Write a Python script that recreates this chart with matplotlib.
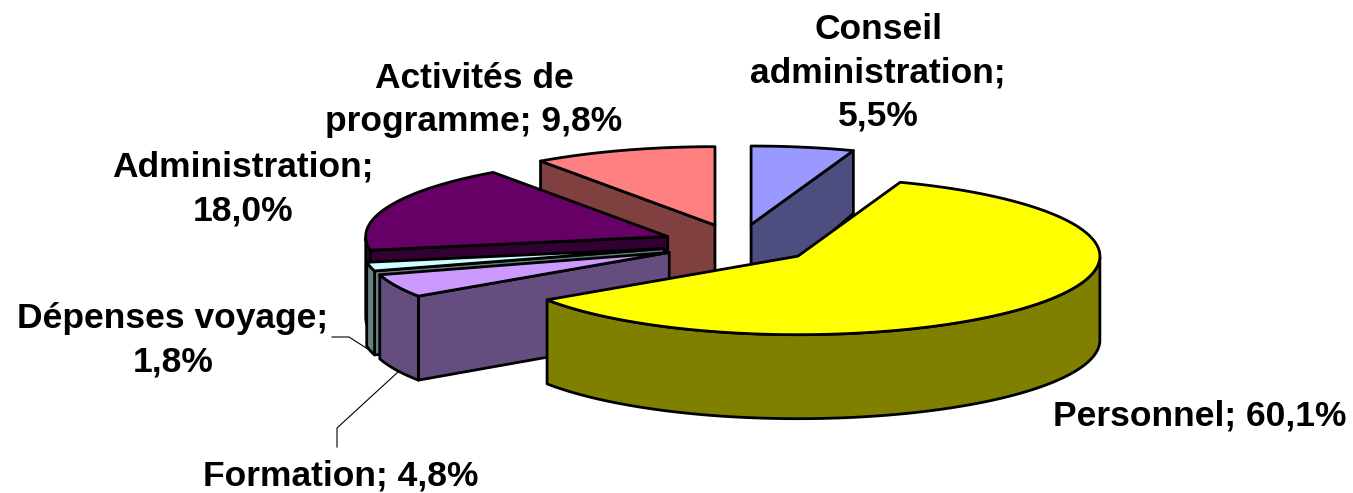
"""Exploded 3D-look budget pie, projected by hand since matplotlib has no such pie."""

import numpy as np
import matplotlib
matplotlib.use("Agg")
import matplotlib.pyplot as plt
from matplotlib.patches import Polygon

# clockwise from 12 o'clock
categories = ["Conseil administration", "Personnel", "Formation",
              "Dépenses voyage", "Administration", "Activités de programme"]
values = [5.5, 60.1, 4.8, 1.8, 18.0, 9.8]
top_colors = ["#9999FF", "#FFFF00", "#CC99FF", "#CCFFFF", "#660066", "#FF8080"]
side_colors = ["#4D4D80", "#808000", "#664D80", "#668080", "#330033", "#804040"]
label_texts = ["Conseil\nadministration;\n5,5%", "Personnel; 60,1%", "Formation; 4,8%",
               "Dépenses voyage;\n1,8%", "Administration;\n18,0%", "Activités de\nprogramme; 9,8%"]
label_pos = [(878, 73), (1200, 416), (341, 476), (173, 340), (243, 189), (474, 100)]

CX, CY = 738, 244
R = 302
TILT = 0.26
EXPLODE = 76


def depth_at(y):
    # wall looks taller towards the front of the disc
    return np.minimum(63 + (y - 152) * 0.2, 84)


def rim_points(apex, a0, a1):
    ang = np.radians(np.linspace(a0, a1, max(int(abs(a1 - a0)), 2) + 1))
    return np.column_stack([apex[0] + R * np.cos(ang), apex[1] - R * TILT * np.sin(ang)])


def drop(points):
    return np.column_stack([points[:, 0], points[:, 1] + depth_at(points[:, 1])])


def add_poly(ax, pts, color):
    ax.add_patch(Polygon(pts, closed=True, facecolor=color, edgecolor="black", linewidth=2.0,
                         joinstyle="round"))


def draw_wedge(ax, a0, a1, top, side):
    mid = np.radians((a0 + a1) / 2)
    apex = np.array([CX + EXPLODE * np.cos(mid), CY - EXPLODE * TILT * np.sin(mid)])
    rim = rim_points(apex, a0, a1)

    # cut faces turned towards the viewer
    for ang, edge in ((a1, rim[-1]), (a0, rim[0])):
        visible = np.cos(np.radians(a1)) < -1e-6 if ang == a1 else np.cos(np.radians(a0)) > 1e-6
        if visible:
            edge_pts = np.array([apex, edge])
            add_poly(ax, np.vstack([edge_pts, drop(edge_pts)[::-1]]), side)

    # front part of the outer wall
    ang = np.linspace(a0, a1, max(int(a1 - a0), 2) + 1)
    front = np.sin(np.radians(ang)) <= 0
    if front.any():
        wall = rim_points(apex, ang[front][0], ang[front][-1])
        add_poly(ax, np.vstack([wall, drop(wall)[::-1]]), side)

    add_poly(ax, np.vstack([apex, rim]), top)


fig = plt.figure(figsize=(13.53, 4.93), dpi=100)
ax = fig.add_axes([0, 0, 1, 1])
ax.set_xlim(0, 1353)
ax.set_ylim(493, 0)
ax.axis("off")

# start/end angles, counter-clockwise maths degrees
spans = []
start = 90.0
for v in values:
    end = start - v * 3.6
    spans.append((end, start))
    start = end

# back to front
for i in [0, 5, 4, 3, 2, 1]:
    a0, a1 = spans[i]
    if a0 < -180 and i != 1:
        a0, a1 = a0 + 360, a1 + 360
    draw_wedge(ax, a0, a1, top_colors[i], side_colors[i])

# leader lines
ax.plot([337, 337, 398], [447, 428, 372], color="black", lw=0.8)
ax.plot([332, 349, 374], [337, 337, 353], color="black", lw=0.8)

for text, (x, y) in zip(label_texts, label_pos):
    ax.text(x, y, text, ha="center", va="center", fontsize=25.5, fontweight="bold",
            family="Liberation Sans", linespacing=1.4, color="black")

fig.savefig("out.png", dpi=100)
